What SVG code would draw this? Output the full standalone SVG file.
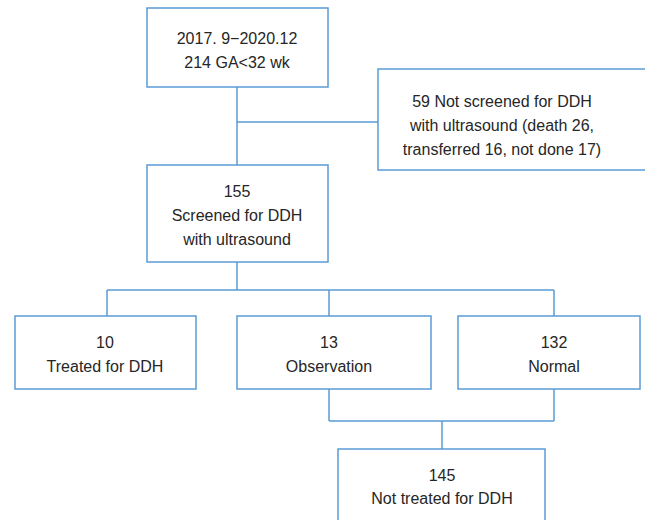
<svg xmlns="http://www.w3.org/2000/svg" width="645" height="520" viewBox="0 0 645 520">
<style>
.box{fill:#fff;stroke:#5b9bd5;stroke-width:1.5}
.ln{fill:none;stroke:#5b9bd5;stroke-width:1.5}
text{font-family:"Liberation Sans",Arial,sans-serif;font-size:16px;fill:#262626;text-anchor:middle}
</style>
<rect width="645" height="520" fill="#fff"/>
<g id="connectors">
<path class="ln" d="M237 87V165M237 122H378M237 262V290M107 290H554M107 290V316M329 290V316M554 290V316M329 389V421M554 389V421M329 421H554M442 421V449"/>
</g>
<g id="n1"><rect class="box" x="147" y="8" width="181" height="79"/>
<text x="237" y="44">2017. 9−2020.12</text><text x="237" y="68">214 GA&lt;32 wk</text></g>
<g id="n2"><rect class="box" x="378" y="69" width="280" height="101"/>
<text x="502" y="107">59 Not screened for DDH</text><text x="502" y="131">with ultrasound (death 26,</text><text x="502" y="155">transferred 16, not done 17)</text></g>
<g id="n3"><rect class="box" x="147" y="165" width="181" height="97"/>
<text x="237" y="197">155</text><text x="237" y="221">Screened for DDH</text><text x="237" y="245">with ultrasound</text></g>
<g id="n4"><rect class="box" x="15" y="316" width="181" height="73"/>
<text x="105" y="348">10</text><text x="105" y="372">Treated for DDH</text></g>
<g id="n5"><rect class="box" x="237" y="316" width="194" height="73"/>
<text x="329" y="348">13</text><text x="329" y="372">Observation</text></g>
<g id="n6"><rect class="box" x="458" y="316" width="182" height="73"/>
<text x="554" y="348">132</text><text x="554" y="372">Normal</text></g>
<g id="n7"><rect class="box" x="338" y="449" width="207" height="80"/>
<text x="442" y="481">145</text><text x="442" y="504">Not treated for DDH</text></g>
</svg>
